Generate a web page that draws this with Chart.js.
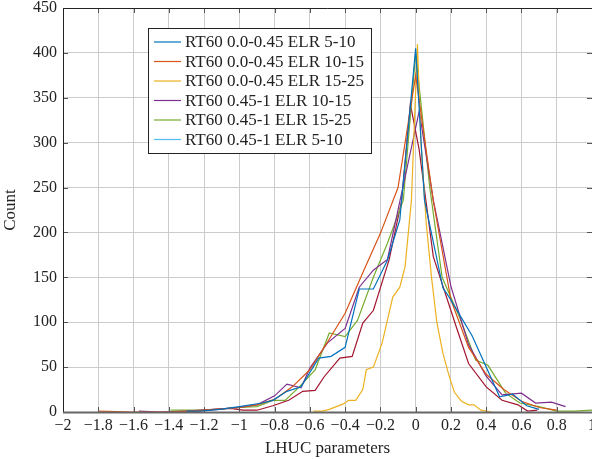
<!DOCTYPE html>
<html>
<head>
<meta charset="utf-8">
<script src="https://cdn.jsdelivr.net/npm/chart.js@4"></script>
<style>
  html, body { margin: 0; padding: 0; background: #fff; overflow: hidden; }
  #wrap { width: 592px; height: 459px; }
</style>
</head>
<body>
<div id="wrap"><canvas id="lhucChart" width="592" height="459"></canvas></div>
<script>
// series labels as in the legend
const seriesLabels = [
  'RT60 0.0-0.45 ELR 5-10',
  'RT60 0.0-0.45 ELR 10-15',
  'RT60 0.0-0.45 ELR 15-25',
  'RT60 0.45-1 ELR 10-15',
  'RT60 0.45-1 ELR 15-25',
  'RT60 0.45-1 ELR 5-10'
];
const lineColors = ['#0072BD', '#D95319', '#EDB120', '#7E2F8E', '#77AC30', '#A2142F'];
const legendColors = ['#0072BD', '#D95319', '#EDB120', '#7E2F8E', '#77AC30', '#4DBEEE'];

// x positions (LHUC parameter bin centres) and counts
const blueX = [-1.3, -1.22, -1.11, -1.0, -0.87, -0.81, -0.73, -0.65, -0.55, -0.48, -0.4, -0.32, -0.24, -0.16, -0.09, 0.0, 0.05, 0.155, 0.19, 0.32, 0.476, 0.55, 0.63, 0.7];
const blueY = [1, 1, 3, 6, 10, 13, 23, 28, 60, 62, 72, 137, 137, 169, 214, 405, 236, 138, 128, 85, 17, 20, 7, 3];

const orangeX = [-1.8, -1.6, -1.4, -1.2, -1.0, -0.9, -0.8, -0.7, -0.6, -0.5, -0.4, -0.3, -0.2, -0.1, 0.0, 0.1, 0.2, 0.3, 0.4, 0.5, 0.6, 0.7, 0.8];
const orangeY = [1, 0, 0, 2, 5, 8, 14, 28, 47, 78, 110, 155, 199, 250, 375, 235, 125, 72, 42, 25, 12, 5, 2];

const yellowX = [-0.58, -0.53, -0.49, -0.45, -0.41, -0.38, -0.34, -0.3, -0.28, -0.24, -0.19, -0.13, -0.09, -0.06, -0.024, 0.01, 0.03, 0.06, 0.09, 0.12, 0.155, 0.19, 0.22, 0.26, 0.3, 0.33, 0.37, 0.43];
const yellowY = [1, 1, 3, 6, 9, 13, 13, 25, 47, 50, 77, 128, 139, 162, 236, 410, 300, 210, 150, 100, 65, 40, 22, 12, 8, 8, 2, 0];

const purpleX = [-1.57, -1.45, -1.3, -1.15, -1.0, -0.9, -0.8, -0.73, -0.65, -0.6, -0.5, -0.4, -0.32, -0.24, -0.16, 0.02, 0.1, 0.2, 0.3, 0.4, 0.49, 0.6, 0.68, 0.77, 0.85];
const purpleY = [1, 0, 1, 3, 5, 8, 18, 31, 27, 49, 77, 93, 139, 158, 170, 335, 236, 140, 75, 40, 19, 21, 10, 11, 6];

const greenX = [-1.39, -1.2, -1.0, -0.9, -0.81, -0.74, -0.66, -0.57, -0.49, -0.4, -0.33, -0.24, -0.16, -0.07, 0.0, 0.08, 0.15, 0.25, 0.34, 0.41, 0.51, 0.59, 0.7, 0.8, 0.9, 1.0];
const greenY = [2, 2, 5, 6, 13, 13, 28, 47, 88, 84, 102, 150, 188, 236, 400, 250, 150, 105, 58, 52, 21, 10, 6, 1, 1, 2];

const maroonX = [-1.3, -1.05, -0.98, -0.9, -0.81, -0.72, -0.64, -0.57, -0.52, -0.43, -0.36, -0.3, -0.24, -0.15, -0.08, -0.03, 0.02, 0.1, 0.23, 0.3, 0.4, 0.49, 0.58, 0.635, 0.69];
const maroonY = [0, 4, 2, 2, 7, 13, 23, 24, 39, 60, 62, 99, 113, 170, 235, 343, 292, 173, 95, 54, 28, 13, 8, 1, 2];

const seriesX = [blueX, orangeX, yellowX, purpleX, greenX, maroonX];
const seriesY = [blueY, orangeY, yellowY, purpleY, greenY, maroonY];

const FONT = '"Liberation Serif", "DejaVu Serif", serif';

function toPoints(xs, ys) {
  return xs.map((x, i) => ({ x: x, y: ys[i] }));
}

const datasets = seriesLabels.map((label, i) => ({
  label: label,
  data: toPoints(seriesX[i], seriesY[i]),
  borderColor: lineColors[i],
  backgroundColor: lineColors[i],
  borderWidth: 1.2,
  pointRadius: 0,
  tension: 0,
  fill: false
}));

function fmtTick(v) {
  const r = Math.round(v * 10) / 10;
  const s = String(Math.abs(r));
  return r < 0 ? '\u2212' + s : s;
}

// legend box drawn inside the plot, like the pgfplots one
const boxLegend = {
  id: 'boxLegend',
  afterDatasetsDraw(chart) {
    const ctx = chart.ctx;
    const x0 = 148, y0 = 28, w = 223, h = 125;
    ctx.save();
    ctx.fillStyle = '#fff';
    ctx.fillRect(x0, y0, w, h);
    ctx.strokeStyle = '#222';
    ctx.lineWidth = 1;
    ctx.strokeRect(x0 + 0.5, y0 + 0.5, w, h);
    ctx.font = '17px ' + FONT;
    ctx.textBaseline = 'middle';
    chart.data.datasets.forEach((ds, i) => {
      const yy = y0 + 14 + i * 19.5;
      ctx.strokeStyle = legendColors[i];
      ctx.lineWidth = 1.2;
      ctx.beginPath();
      ctx.moveTo(154, yy);
      ctx.lineTo(181, yy);
      ctx.stroke();
      ctx.fillStyle = '#222';
      ctx.fillText(ds.label, 185, yy + 1);
    });
    ctx.restore();
  }
};

// frame and inward tick marks
const frame = {
  id: 'frame',
  afterDatasetsDraw(chart) {
    const { ctx, chartArea: a, scales } = chart;
    ctx.save();
    ctx.strokeStyle = '#555';
    ctx.lineWidth = 1;
    scales.x.ticks.forEach(t => {
      const px = Math.round(scales.x.getPixelForValue(t.value)) + 0.5;
      ctx.beginPath();
      ctx.moveTo(px, a.bottom);
      ctx.lineTo(px, a.bottom - 5);
      ctx.moveTo(px, a.top);
      ctx.lineTo(px, a.top + 5);
      ctx.stroke();
    });
    scales.y.ticks.forEach(t => {
      const py = Math.round(scales.y.getPixelForValue(t.value)) + 0.5;
      ctx.beginPath();
      ctx.moveTo(a.left, py);
      ctx.lineTo(a.left + 5, py);
      ctx.moveTo(a.right, py);
      ctx.lineTo(a.right - 5, py);
      ctx.stroke();
    });
    ctx.strokeStyle = '#222';
    ctx.beginPath();
    ctx.moveTo(a.left + 0.5, a.bottom);
    ctx.lineTo(a.left + 0.5, a.top + 0.5);
    ctx.lineTo(a.right, a.top + 0.5);
    ctx.stroke();
    ctx.strokeStyle = '#666';
    ctx.lineWidth = 2;
    ctx.beginPath();
    ctx.moveTo(a.left, a.bottom + 0.5);
    ctx.lineTo(a.right, a.bottom + 0.5);
    ctx.stroke();
    ctx.restore();
  }
};

const ctx = document.getElementById('lhucChart').getContext('2d');
const lhucChart = new Chart(ctx, {
  type: 'line',
  data: { datasets: datasets },
  options: {
    responsive: false,
    animation: false,
    layout: { padding: { top: 8, right: 0, left: 0, bottom: 0 } },
    plugins: {
      legend: { display: false },
      tooltip: { enabled: false }
    },
    scales: {
      x: {
        type: 'linear',
        min: -2,
        max: 1,
        grid: { color: '#cccccc', lineWidth: 1, drawTicks: false },
        border: { display: false },
        ticks: {
          stepSize: 0.2,
          padding: 4,
          color: '#222',
          font: { family: FONT, size: 16 },
          maxRotation: 0,
          autoSkip: false,
          callback: v => fmtTick(v)
        },
        title: {
          display: true,
          text: 'LHUC parameters',
          color: '#222',
          font: { family: FONT, size: 17 },
          padding: { top: 3, bottom: 0 }
        },
        afterFit: s => { s.paddingLeft = 0; s.paddingRight = 0; s.height = 47; }
      },
      y: {
        min: 0,
        max: 450,
        grid: { color: '#cccccc', lineWidth: 1, drawTicks: false },
        border: { display: false },
        ticks: {
          stepSize: 50,
          padding: 6,
          color: '#222',
          font: { family: FONT, size: 16 }
        },
        title: {
          display: true,
          text: 'Count',
          color: '#222',
          font: { family: FONT, size: 17 },
          padding: { top: 0, bottom: 3 }
        },
        afterFit: s => { s.paddingTop = 0; s.paddingBottom = 0; s.width = 63; }
      }
    }
  },
  plugins: [frame, boxLegend]
});
</script>
</body>
</html>
